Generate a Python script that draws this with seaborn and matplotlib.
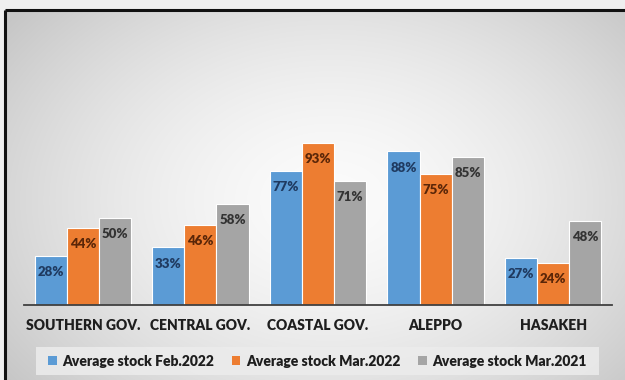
import numpy as np
import pandas as pd
import matplotlib
matplotlib.use("Agg")
import matplotlib.pyplot as plt
from matplotlib.patches import Rectangle
import seaborn as sns

regions = ["SOUTHERN GOV.", "CENTRAL GOV.", "COASTAL GOV.", "ALEPPO", "HASAKEH"]
series_names = ["Average stock Feb.2022", "Average stock Mar.2022", "Average stock Mar.2021"]
stock_feb_2022 = [28, 33, 77, 88, 27]
stock_mar_2022 = [44, 46, 93, 75, 24]
stock_mar_2021 = [50, 58, 71, 85, 48]

bar_colors = ["#5B9BD5", "#ED7D31", "#A5A5A5"]
label_colors = ["#1F3A60", "#5A2608", "#333333"]

df = pd.DataFrame({
    "region": regions * 3,
    "series": [s for s in series_names for _ in regions],
    "value": stock_feb_2022 + stock_mar_2022 + stock_mar_2021,
})

sns.set_theme(style="white")
plt.rcParams["font.family"] = ["Lato", "DejaVu Sans"]

W, H = 625, 380
fig = plt.figure(figsize=(W / 100, H / 100), dpi=100)
fig.patch.set_facecolor("#f0f0f0")

# radial grey gradient behind the chart, framed by a dark border
bg = fig.add_axes([0, 0, 1, 1], zorder=0)
yy, xx = np.mgrid[0:H, 0:W]
r = np.sqrt(((xx - 330) / 360.0) ** 2 + ((yy - 200) / 260.0) ** 2)
shade = np.clip(0.985 - 0.17 * r ** 1.6, 0.78, 0.99)
img = np.dstack([shade] * 3)
img[:10, :, :] = 0.94
img[:, :5, :] = 0.94
bg.imshow(img, extent=[0, W, H, 0], aspect="auto", interpolation="bilinear")
bg.plot([5, W + 5], [10, 10], color="#111111", lw=2.2, solid_capstyle="butt")
bg.plot([5, 5], [10, H + 5], color="#111111", lw=2.2, solid_capstyle="butt")
bg.set_xlim(0, W)
bg.set_ylim(H, 0)
bg.axis("off")

# plot area: baseline at y=305 px, 100% at y=130.4 px
x0, x1 = 24, 612
y_base, y_top = 305, 130.4
ax = fig.add_axes([x0 / W, 1 - y_base / H, (x1 - x0) / W, (y_base - y_top) / H], zorder=1)
ax.patch.set_alpha(0)

sns.barplot(data=df, x="region", y="value", hue="series", order=regions,
            hue_order=series_names, palette=bar_colors, width=0.82,
            edgecolor="white", linewidth=0.8, saturation=1, ax=ax, legend=False)

for container, col in zip(ax.containers, label_colors):
    ax.bar_label(container, labels=[f"{v:.0f}%" for v in container.datavalues],
                 label_type="edge", padding=-16, color=col, fontsize=9.5,
                 fontweight="heavy")

ax.set_xlim(-0.5, len(regions) - 0.5)
ax.set_ylim(0, 100)
ax.set_xlabel("")
ax.set_ylabel("")
ax.set_yticks([])
for side in ["top", "right", "left"]:
    ax.spines[side].set_visible(False)
ax.spines["bottom"].set_color("#404040")
ax.spines["bottom"].set_linewidth(1.3)
ax.tick_params(axis="x", length=0, pad=10, labelsize=10, labelcolor="#1e1e1e")
for t in ax.get_xticklabels():
    t.set_fontweight("heavy")

# legend strip along the bottom
bg.add_patch(Rectangle((36, 347), 563, 28, facecolor="#ececec", edgecolor="none", alpha=0.85))
handles = [Rectangle((0, 0), 1, 1, facecolor=c, edgecolor="none") for c in bar_colors]
leg = fig.legend(handles, series_names, loc="center", bbox_to_anchor=((36 + 599) / 2 / W, 1 - 361 / H),
                 ncol=3, frameon=False, handlelength=0.6, handleheight=0.6,
                 handletextpad=0.4, columnspacing=1.3, prop={"weight": "heavy", "size": 10})
for t in leg.get_texts():
    t.set_color("#1e1e1e")

fig.savefig("out.png", dpi=100)
